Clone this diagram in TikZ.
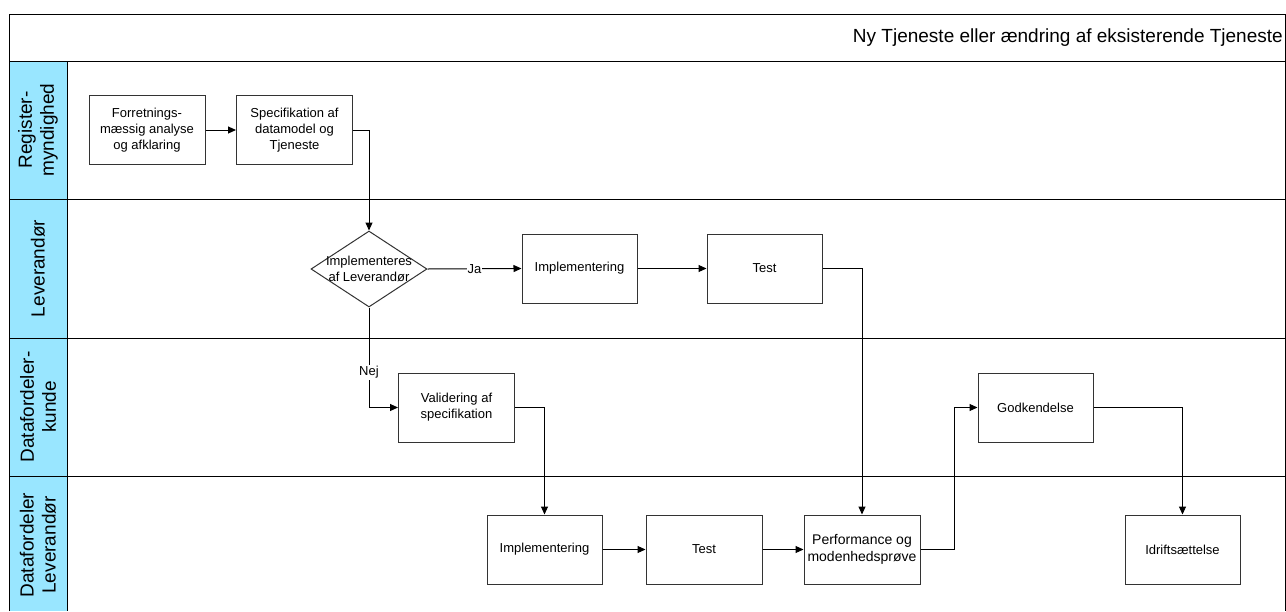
\documentclass[tikz,border=0pt]{standalone}
\usepackage{fontspec}
\setmainfont{Liberation Sans}
\usetikzlibrary{arrows.meta,shapes.geometric}
\definecolor{lanecyan}{HTML}{99E6FF}
\definecolor{boxline}{HTML}{333333}
\tikzset{
  stepbox/.style={draw=boxline, line width=1pt, fill=white, minimum width=116, minimum height=69,
    inner sep=0pt, align=center, font=\fontsize{13}{16}\selectfont},
  flow/.style={draw=black, line width=1pt, -{Triangle[length=8pt,width=7pt]}},
  lanelabel/.style={rotate=90, align=center, font=\fontsize{19}{22}\selectfont},
  edgelabel/.style={fill=white, inner sep=1pt, font=\fontsize{13}{15}\selectfont},
  frameline/.style={draw=black, line width=1pt}
}
\begin{document}
\begin{tikzpicture}[x=1pt,y=-1pt]
\useasboundingbox (0,0) rectangle (1286,611);
% lane header column
\fill[lanecyan] (9,61) rectangle (67,611);
% frame
\draw[frameline] (9,611) -- (9,14) -- (1285,14) -- (1285,611);
\draw[frameline] (9,61) -- (1285,61);
\draw[frameline] (67,61) -- (67,611);
\draw[frameline] (9,199) -- (1285,199);
\draw[frameline] (9,338) -- (1285,338);
\draw[frameline] (9,476) -- (1285,476);
% title
\node[anchor=east, font=\fontsize{19}{22}\selectfont, inner sep=0pt] (title) at (1283,38) {Ny Tjeneste eller ændring af eksisterende Tjeneste};
% lane labels
\node[lanelabel] (lane1) at (38,130) {Register-\\myndighed};
\node[lanelabel] (lane2) at (38,268.5) {Leverandør};
\node[lanelabel] (lane3) at (38,407) {Datafordeler-\\kunde};
\node[lanelabel] (lane4) at (38,545) {Datafordeler\\Leverandør};
% steps
\node[stepbox] (forr) at (147,130) {Forretnings-\\mæssig analyse\\og afklaring};
\node[stepbox] (spec) at (294.5,130) {Specifikation af\\datamodel og\\Tjeneste};
\node[diamond, draw=boxline, line width=1pt, fill=white, minimum width=116, minimum height=76, inner sep=0pt] (dec) at (369,269) {};
\node[align=center, inner sep=0pt, font=\fontsize{13}{16}\selectfont] (dectext) at (dec.center) {Implementeres\\af Leverandør};
\node[stepbox, minimum width=115] (impl1) at (579.5,268.5) {Implementering};
\node[stepbox, minimum width=115] (test1) at (764.5,268.5) {Test};
\node[stepbox] (val) at (456.5,407.5) {Validering af\\specifikation};
\node[stepbox, minimum width=115] (impl2) at (544.5,549.5) {Implementering};
\node[stepbox] (test2) at (704,549.5) {Test};
\node[stepbox, font=\fontsize{14}{17}\selectfont] (perf) at (862,549.5) {Performance og\\modenhedsprøve};
\node[stepbox, minimum width=115] (godk) at (1035.5,407.5) {Godkendelse};
\node[stepbox, minimum width=115] (idrift) at (1182.5,549.5) {Idriftsættelse};
% connectors
\draw[flow] (forr) -- (spec);
\draw[flow] (spec.east) -| (dec.north);
\draw[flow] (dec.east) -- node[edgelabel] (ja) {Ja} (impl1.west);
\draw[flow] (impl1) -- (test1);
\draw[flow] (test1.east) -| (perf.north);
\draw[flow] (dec.south) |- node[edgelabel, pos=0.325] (nej) {Nej} (val.west);
\draw[flow] (val.east) -| (impl2.north);
\draw[flow] (impl2) -- (test2);
\draw[flow] (test2) -- (perf);
\draw[flow] (perf.east) -- ++(34,0) |- (godk.west);
\draw[flow] (godk.east) -| (idrift.north);
\end{tikzpicture}
\end{document}
